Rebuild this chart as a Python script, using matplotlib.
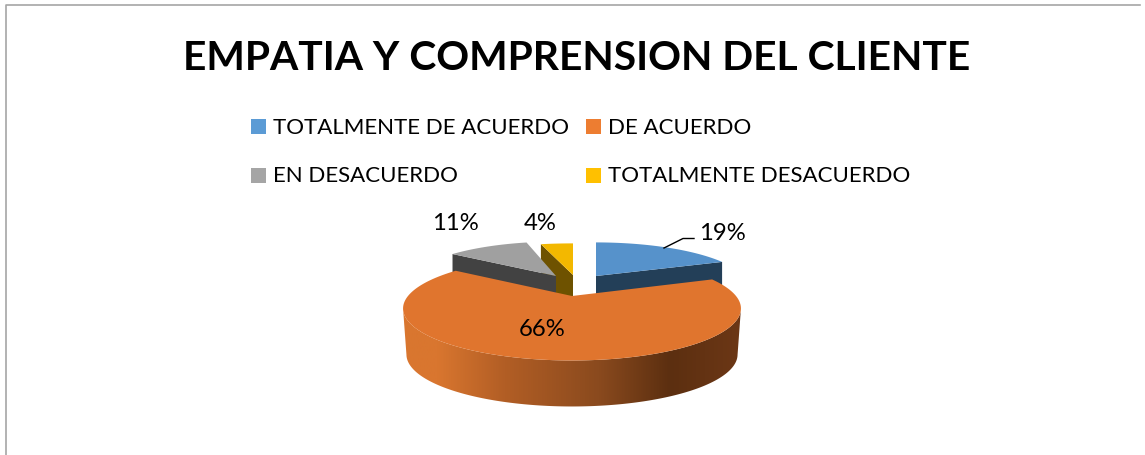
import numpy as np
import matplotlib
matplotlib.use('Agg')
import matplotlib.pyplot as plt
from matplotlib.patches import Polygon, Rectangle
from matplotlib.colors import LinearSegmentedColormap

plt.rcParams['font.family'] = ['Lato', 'DejaVu Sans']

title = 'EMPATIA Y COMPRENSION DEL CLIENTE'
labels = ['TOTALMENTE DE ACUERDO', 'DE ACUERDO', 'EN DESACUERDO', 'TOTALMENTE DESACUERDO']
values = [19, 66, 11, 4]
top_colors = ['#5692CB', '#E0752E', '#A0A0A0', '#F3B800']
legend_colors = ['#5B9BD5', '#ED7D31', '#A5A5A5', '#FFC000']
side_colors = ['#233F58', '#5E3012', '#424242', '#6E5200']

# apex of each slice in pixels, and how far it was pulled out
apex = [(596, 276), (572, 296), (556, 276), (573, 275)]
scale_x = [0.90, 1.0, 0.89, 0.97]
scale_y = [0.85, 1.0, 0.87, 0.80]
rx, ry, persp, depth = 164, 49, 0.24, 46

fig = plt.figure(figsize=(11.45, 4.55), dpi=100)
ax = fig.add_axes([0, 0, 1, 1])
ax.set_xlim(0, 1145)
ax.set_ylim(455, 0)
ax.axis('off')

ax.plot([6, 6, 1140], [455, 4.5, 4.5], color='#A6A6A6', lw=1.2)


def arc(i, a0, a1, n=120):
    t = np.radians(np.linspace(a0, a1, n))
    u, v = np.sin(t), np.cos(t)
    s = 1 / (1 + persp * v)
    return np.column_stack([apex[i][0] + rx * u * s * scale_x[i], apex[i][1] - ry * v * s * scale_y[i]])


def side(p0, p1, color, z):
    pts = [p0, p1, (p1[0], p1[1] + depth), (p0[0], p0[1] + depth)]
    ax.add_patch(Polygon(pts, closed=True, fc=color, ec='none', zorder=z))


ends = np.cumsum(values) / sum(values) * 360
starts = np.r_[0, ends[:-1]]

# yellow, blue and grey sit behind the orange slice
for i, z in [(3, 2), (0, 2), (2, 3)]:
    pts = arc(i, starts[i], ends[i])
    # the cut face that looks towards the viewer
    edge = pts[-1] if i == 0 else pts[0]
    side(edge, apex[i], side_colors[i], z)
    ax.add_patch(Polygon(np.vstack([apex[i], pts]), closed=True, fc=top_colors[i], ec='none', zorder=z + 0.5))

# orange wall with the shading running left to right
pts = arc(1, starts[1], ends[1], 300)
low = pts + [0, depth]
low[:, 0] = apex[1][0] + (low[:, 0] - apex[1][0]) * 0.98
# only the front half, from the widest point on the right to the one on the left
r, l = pts[:, 0].argmax(), pts[:, 0].argmin()
wall = Polygon(np.vstack([pts[r:l + 1], low[r:l + 1][::-1]]), closed=True, fc='none', ec='none', zorder=5)
ax.add_patch(wall)
shade = LinearSegmentedColormap.from_list('shade', [
    (0.0, '#D9762F'), (0.1, '#D9762F'), (0.3, '#B25E25'), (0.58, '#8A4A1E'),
    (0.79, '#5C2F10'), (1.0, '#6C3716')])
im = ax.imshow(np.linspace(0, 1, 256)[None, :], cmap=shade, extent=(403, 741, 455, 0), aspect='auto', zorder=5)
im.set_clip_path(wall)
ax.set_xlim(0, 1145)
ax.set_ylim(455, 0)
ax.add_patch(Polygon(np.vstack([apex[1], pts]), closed=True, fc=top_colors[1], ec='none', zorder=6))

ax.plot([664, 683, 694], [248, 238.5, 238.5], color='black', lw=1, zorder=7)

pct_pos = [(722, 233.5), (542, 329), (455, 223), (540, 223)]
for v, (x, y) in zip(values, pct_pos):
    ax.text(x, y, f'{v}%', ha='center', va='center', fontsize=17.2, color='black', zorder=8)

fig.text(577 / 1145, 1 - 58.5 / 455, title, ha='center', va='center', fontsize=29.3, fontweight='bold', color='black')

legend_pos = [(252, 126), (587, 126), (252, 175), (587, 175)]
for lab, col, (x, y) in zip(labels, legend_colors, legend_pos):
    ax.add_patch(Rectangle((x - 1, y - 7), 15, 15, fc=col, ec='none'))
    ax.text(x + 21, y + 1.5, lab, ha='left', va='center', fontsize=16, color='black')

fig.savefig('out.png', dpi=100)
